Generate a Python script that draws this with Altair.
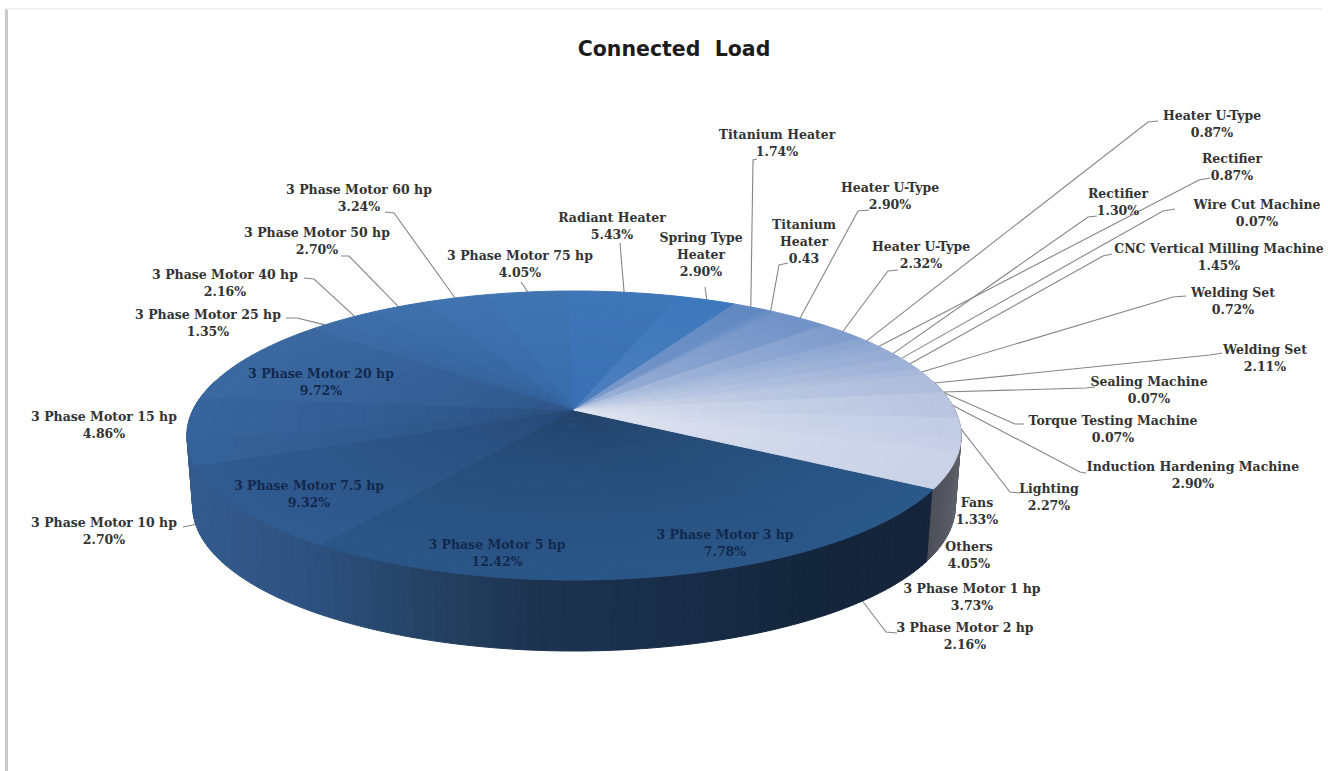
import math
import altair as alt

# Load shares, clockwise from the dark/light seam of the pie
names = ["3 Phase Motor 1 hp", "3 Phase Motor 2 hp", "3 Phase Motor 3 hp", "3 Phase Motor 5 hp",
         "3 Phase Motor 7.5 hp", "3 Phase Motor 10 hp", "3 Phase Motor 15 hp", "3 Phase Motor 20 hp",
         "3 Phase Motor 25 hp", "3 Phase Motor 40 hp", "3 Phase Motor 50 hp", "3 Phase Motor 60 hp",
         "3 Phase Motor 75 hp", "Radiant Heater", "Spring Type\nHeater", "Titanium Heater",
         "Titanium\nHeater", "Heater U-Type", "Heater U-Type", "Heater U-Type", "Rectifier",
         "Rectifier", "Wire Cut Machine", "CNC Vertical Milling Machine", "Welding Set", "Welding Set",
         "Sealing Machine", "Torque Testing Machine", "Induction Hardening Machine", "Lighting",
         "Fans", "Others"]
values = [3.73, 2.16, 7.78, 12.42, 9.32, 2.70, 4.86, 9.72, 1.35, 2.16, 2.70, 3.24, 4.05, 5.43, 2.90,
          1.74, 0.43, 2.90, 2.32, 0.87, 0.87, 1.30, 0.07, 1.45, 0.72, 2.11, 0.07, 0.07, 2.90, 2.27,
          1.33, 4.05]
value_text = ["3.73%", "2.16%", "7.78%", "12.42%", "9.32%", "2.70%", "4.86%", "9.72%", "1.35%", "2.16%",
              "2.70%", "3.24%", "4.05%", "5.43%", "2.90%", "1.74%", "0.43", "2.90%", "2.32%", "0.87%",
              "0.87%", "1.30%", "0.07%", "1.45%", "0.72%", "2.11%", "0.07%", "0.07%", "2.90%", "2.27%",
              "1.33%", "4.05%"]

# Label placement: centre x and the y of the first line
label_x = [972, 965, 725, 497, 309, 104, 104, 321, 208, 225, 317, 359, 520, 612, 701, 777, 804, 890, 921,
           1212, 1232, 1118, 1257, 1219, 1233, 1265, 1149, 1113, 1193, 1049, 977, 969]
label_y = [589, 628, 535, 545, 486, 523, 417, 374, 315, 275, 233, 190, 256, 218, 238, 135, 225, 188, 247,
           116, 159, 194, 205, 249, 293, 350, 382, 421, 467, 489, 503, 547]
inside = {2, 3, 4, 7}

# Leader lines: the bend points beside each label, by slice index
leader_knees = {
    1: [(897, 633), (886, 632)], 5: [(183, 527), (193, 525)], 8: [(286, 318), (297, 318)],
    9: [(304, 278), (314, 279)], 10: [(341, 256), (349, 256)], 11: [(385, 212), (394, 213)],
    12: [(521, 282)], 13: [(620, 243)], 14: [(705, 287)], 15: [(757, 159), (753, 160)],
    16: [(788, 263), (779, 265)], 17: [(869, 210), (858, 211)], 18: [(898, 270), (888, 271)],
    19: [(1158, 121), (1148, 122)], 20: [(1210, 178), (1199, 180)], 21: [(1097, 216), (1088, 217)],
    22: [(1175, 209), (1163, 211)], 23: [(1112, 254), (1103, 256)], 24: [(1186, 296), (1173, 297)],
    25: [(1222, 353), (1210, 355)], 26: [(1095, 387), (1086, 388)], 27: [(1024, 424), (1015, 424)],
    28: [(1086, 473), (1080, 472)], 29: [(1020, 493), (1010, 492)],
}

# Rim colours and apex colours along the cumulative share
rim_stops = [(0, "#2a5889"), (20, "#2a5688"), (30, "#2f5a90"), (38, "#36639b"),
             (46, "#3a66a0"), (60, "#3f72ae"), (66, "#4277b3"), (69, "#3f76b8"), (73, "#3d78bc"),
             (75, "#5e86c0"), (77, "#6c8fc6"), (79, "#7494c8"), (81, "#7f9ccd"), (83, "#8ea6d2"),
             (85, "#98add5"), (87, "#a8b8da"), (91, "#b9c5e1"), (94, "#c3cde5"), (100, "#cdd4e8")]
apex_stops = [(0, "#213f63"), (15, "#213f63"), (30, "#254670"), (46, "#2a4f80"), (60, "#3264a2"),
              (72, "#3a72b6"), (76, "#8fa8d2"), (80, "#c3cfe6"), (90, "#dde3f0"), (100, "#e6e9f3")]
wall_stops = [(188, "#355b8e"), (300, "#2e5382"), (450, "#243f60"), (550, "#1c324f"), (700, "#182c47"),
              (800, "#14263b"), (925, "#15243a")]
wall_grey = "#5c6068"

# Perspective view of the pie disc
APEX_X, APEX_Y = 574, 410
RX, RY, TILT = 381, 140, 0.1765
DEPTH = 71
START_DEG = 120.8


def rgb(h):
    return [int(h[i:i + 2], 16) for i in (1, 3, 5)]


def mix(a, b, t):
    ca, cb = rgb(a), rgb(b)
    return "#%02x%02x%02x" % tuple(round(p + (q - p) * t) for p, q in zip(ca, cb))


def along(stops, pos):
    if pos <= stops[0][0]:
        return stops[0][1]
    for (p0, c0), (p1, c1) in zip(stops, stops[1:]):
        if pos <= p1:
            return mix(c0, c1, (pos - p0) / (p1 - p0))
    return stops[-1][1]


def disc(theta_deg, r=1.0):
    """Screen position of a point on the top face; theta runs clockwise from the back."""
    a = math.radians(theta_deg)
    u, v = r * math.sin(a), r * math.cos(a)
    w = 1 + TILT * v
    return APEX_X + RX * u / w, APEX_Y - RY * v / w


def floor(theta_deg):
    x, y = disc(theta_deg)
    return APEX_X + (x - APEX_X) * 0.985, y + DEPTH


def feature(points, fill):
    ring = [[round(x, 2), round(y, 2)] for x, y in points]
    ring.append(ring[0])
    return {"type": "Feature", "properties": {"fill": fill},
            "geometry": {"type": "Polygon", "coordinates": [ring]}}


total = sum(values)
edges = [0.0]
for v in values:
    edges.append(edges[-1] + v)
to_deg = lambda c: START_DEG + c * 360 / total

# Outer wall of the drum, in narrow upright strips
wall = []
step = 1.5
deg = 78.0
while deg < 282:
    pts = [disc(deg), disc(deg + step), floor(deg + step), floor(deg)]
    if deg + step / 2 < START_DEG:
        t = (START_DEG - deg) / 42
        fill = mix("#4d5057", wall_grey, min(1, t * 3))
    else:
        fill = along(wall_stops, (pts[0][0] + pts[3][0]) / 2)
    wall.append(feature(pts, fill))
    deg += step

# Top face: each slice is cut into rings so it can shade from apex to rim
RINGS = 18
top = []
for i, v in enumerate(values):
    a0, a1 = to_deg(edges[i]), to_deg(edges[i + 1])
    mid_pos = (edges[i] + edges[i + 1]) / 2
    n = max(1, int((a1 - a0) / 1.5))
    angles = [a0 + (a1 - a0) * k / n for k in range(n + 1)]
    for ring in range(RINGS):
        r0, r1 = ring / RINGS, (ring + 1) / RINGS
        t = min(1.0, ((r0 + r1) / 2) ** 0.6)
        fill = mix(along(apex_stops, mid_pos), along(rim_stops, mid_pos), t)
        pts = [disc(a, r1) for a in angles] + [disc(a, r0) for a in reversed(angles)]
        top.append(feature(pts, fill))

# Text, one row per line
text_rows = []
for i, (name, share) in enumerate(zip(names, value_text)):
    for k, line in enumerate(name.split("\n") + [share]):
        text_rows.append({"x": label_x[i], "y": label_y[i] + 17 * k, "t": line,
                          "c": "#12294d" if i in inside else "#333333"})

# Leader polylines run from the label to the slice's mid-angle on the rim
leader_rows = []
for i, knees in leader_knees.items():
    deg_mid = to_deg((edges[i] + edges[i + 1]) / 2)
    rim = disc(deg_mid)
    if 105 < deg_mid % 360 < 265:
        rim = floor(deg_mid)
    for s, (x, y) in enumerate(knees + [rim]):
        leader_rows.append({"id": i, "s": s, "x": x, "y": y})

X = alt.X("x:Q", axis=None, scale=alt.Scale(domain=[0, 1328], nice=False, zero=False))
Y = alt.Y("y:Q", axis=None, scale=alt.Scale(domain=[771, 0], nice=False, zero=False))


def faces(features):
    return alt.Chart(alt.Data(values=features)).mark_geoshape(
        strokeWidth=1, opacity=1, fillOpacity=1, strokeOpacity=1).encode(
        color=alt.Color("properties.fill:N", scale=None),
        stroke=alt.Stroke("properties.fill:N", scale=None),
    ).project(type="identity", scale=1, translate=[0, 0])


frame = alt.Chart(alt.Data(values=[{"x": 6.5, "y": 9, "y2": 771}])).mark_rule(
    color="#c9c9c9", strokeWidth=3).encode(x=X, y=Y, y2="y2:Q")
frame_top = alt.Chart(alt.Data(values=[{"x": 6, "x2": 1322, "y": 9}])).mark_rule(
    color="#ececec", strokeWidth=1.5).encode(x=X, x2="x2:Q", y=Y)

leaders = alt.Chart(alt.Data(values=leader_rows)).mark_line(
    color="#858585", strokeWidth=1.1).encode(x=X, y=Y, detail="id:N", order="s:Q")

labels = alt.Chart(alt.Data(values=text_rows)).mark_text(
    font="DejaVu Serif", fontSize=12.5, fontWeight="bold", baseline="middle", align="center").encode(
    x=X, y=Y, text="t:N", color=alt.Color("c:N", scale=None))

title = alt.Chart(alt.Data(values=[{"x": 674, "y": 50, "t": "Connected\u00a0\u00a0Load"}])).mark_text(
    font="DejaVu Sans", fontSize=20.5, fontWeight="bold", color="#1c1c1c", baseline="middle").encode(
    x=X, y=Y, text="t:N")

chart = alt.layer(frame, frame_top, leaders, faces(wall), faces(top), labels, title).properties(
    width=1328, height=771, padding=0, autosize=alt.AutoSizeParams(type="none"),
    background="white",
).configure_view(stroke=None)

chart.save("out.html", embed_options={"renderer": "svg", "actions": False})
